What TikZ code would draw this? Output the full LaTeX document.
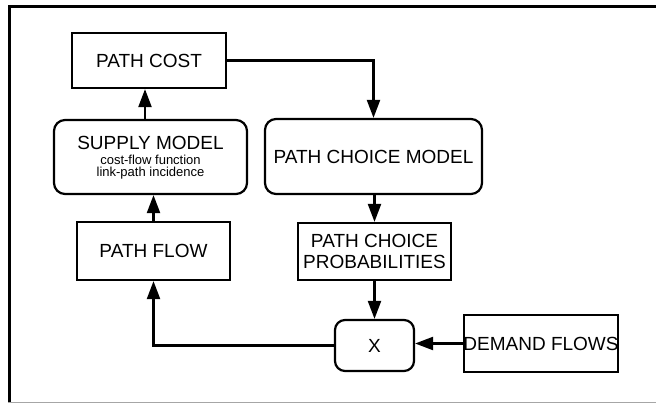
\documentclass[tikz,border=0pt]{standalone}
\usepackage{fontspec}
\setmainfont{Liberation Sans}
\usetikzlibrary{arrows.meta}
\begin{document}
\begin{tikzpicture}[x=1pt,y=-1pt,
  box/.style={draw,line width=2.2pt,inner sep=0pt,font=\fontsize{19}{21.5}\selectfont,align=center},
  rbox/.style={box,rounded corners=11pt},
  txt/.style={inner sep=0pt,font=\fontsize{19}{21.5}\selectfont},
  small/.style={inner sep=0pt,font=\fontsize{13}{15}\selectfont},
  arr/.style={line width=2.2pt,-{Triangle[length=18pt,width=13pt]}},
  conn/.style={line width=2.2pt}]
\useasboundingbox (0,0) rectangle (656,404);
% frame
\draw[line width=3pt] (9,402) -- (9,6.5) -- (656,6.5);
\draw[gray!70,line width=1pt] (8,402) -- (656,402);
% nodes
\node[box,minimum width=154pt,minimum height=55pt] (pcost) at (149,60.5) {PATH COST};
\node[rbox,minimum width=193pt,minimum height=74pt] (supply) at (150.5,157) {};
\node[txt,anchor=base] (supplyT) at (150.5,149) {SUPPLY MODEL};
\node[small,anchor=base] (supplyA) at (150.5,164.5) {cost-flow function};
\node[small,anchor=base] (supplyB) at (150.5,176.5) {link-path incidence};
\node[rbox,minimum width=217pt,minimum height=75pt] (pcm) at (373.5,156.5) {PATH CHOICE MODEL};
\node[box,minimum width=153pt,minimum height=58pt] (pflow) at (153.5,251) {PATH FLOW};
\node[box,minimum width=153pt,minimum height=57pt] (pcp) at (374.5,251.5) {PATH CHOICE\\PROBABILITIES};
\node[rbox,rounded corners=10pt,minimum width=79pt,minimum height=51pt] (xbox) at (374.5,345.5) {X};
\node[box,minimum width=154pt,minimum height=57pt] (demand) at (541,343.5) {};
\node[txt] (demandT) at (541,343.5) {DEMAND FLOWS};
% connectors
\coordinate (a1) at (145,0);
\draw[arr] (supply.north -| a1) -- (pcost.south -| a1);
\draw[arr] (pcost.east) -| (pcm.north);
\draw[arr] (pflow.north) -- (pflow.north |- supply.south);
\draw[arr] (pcm.south -| pcp.north) -- (pcp.north);
\draw[arr] (pcp.south) -- (pcp.south |- xbox.north);
\draw[arr] (demand.west) -- (demand.west -| xbox.east);
\draw[arr] (xbox.west) -| (pflow.south);
\end{tikzpicture}
\end{document}
